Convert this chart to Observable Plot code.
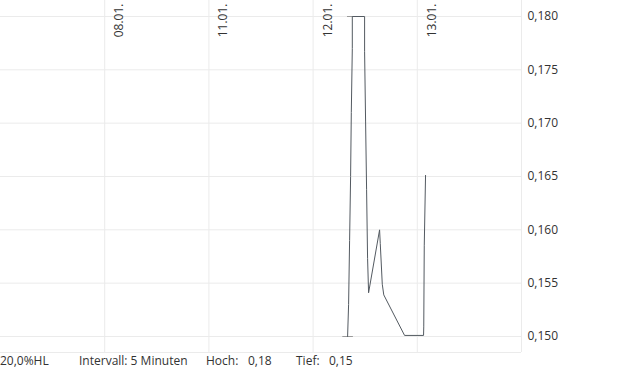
<!DOCTYPE html>
<html>
<head>
<meta charset="utf-8">
<script src="https://cdn.jsdelivr.net/npm/d3@7"></script>
<script src="https://cdn.jsdelivr.net/npm/@observablehq/plot@0.6"></script>
<style>
  html, body { margin: 0; padding: 0; background: #fff; }
  #chart svg { display: block; }
  #footer { position: relative; width: 620px; height: 19px; font-family: "Open Sans", sans-serif; font-size: 12px; color: #333; line-height: 16px; white-space: pre; }
  #footer span { position: absolute; top: 0; }
</style>
</head>
<body>
<div id="chart"></div>
<div id="footer">
  <span id="f-hl" style="left:0px"></span>
  <span id="f-int" style="left:79px"></span>
  <span id="f-hoch" style="left:206px"></span>
  <span id="f-hochv" style="left:248px"></span>
  <span id="f-tief" style="left:296px"></span>
  <span id="f-tiefv" style="left:329px"></span>
</div>
<script>
// Trading days (equal-width slots on the x axis)
const days = ["07.01.", "08.01.", "11.01.", "12.01.", "13.01."];
const dayTicks = [1, 2, 3, 4];

// Price series (x = fractional trading-day index, 5-minute data)
const t = [3.3311, 3.3407, 3.3503, 3.3599, 3.3666, 3.3762, 3.3762, 3.4942, 3.4942, 3.5037, 3.5133, 3.5229, 3.5325, 3.6380, 3.6447, 3.6639, 3.6783, 3.8778, 4.0600, 4.0620, 4.0668, 4.0792];
const price = [0.1500, 0.1530, 0.1590, 0.1650, 0.1710, 0.1770, 0.1800, 0.1800, 0.1767, 0.1702, 0.1638, 0.1573, 0.1541, 0.1600, 0.1587, 0.1549, 0.1539, 0.1501, 0.1501, 0.1509, 0.1585, 0.1651];

// Y axis ticks
const yTicks = [0.150, 0.155, 0.160, 0.165, 0.170, 0.175, 0.180];

// Footer info
const footerHL = "20,0%HL";
const footerInterval = "Intervall: 5 Minuten";
const footerHoch = "Hoch:";
const footerTief = "Tief:";

const series = t.map((x, i) => ({x, y: price[i]}));
const hiIdx = d3.maxIndex(price);
const loIdx = d3.minIndex(price);
const hilo = [series[hiIdx], series[loIdx]];

const comma = (f) => (d) => f(d).replace(".", ",");
const fmt3 = comma(d3.format(".3f"));
const fmt2 = comma(d3.format(".2f"));

const hbar = {
  draw(ctx, size) {
    const r = Math.sqrt(size / Math.PI);
    ctx.moveTo(-r, 0);
    ctx.lineTo(r, 0);
  }
};

const gridColor = "#ebebeb";

const chart = Plot.plot({
  width: 620,
  height: 353,
  marginTop: 0,
  marginBottom: 1,
  marginLeft: 0,
  marginRight: 99,
  style: { fontFamily: "Open Sans, sans-serif", fontSize: "12px", color: "#333", background: "#fff", overflow: "visible" },
  x: { domain: [0, days.length], axis: null },
  y: { domain: [0.1485, 0.1815], axis: null },
  marks: [
    Plot.gridY(yTicks, { stroke: gridColor, strokeOpacity: 1 }),
    Plot.gridX(dayTicks, { stroke: gridColor, strokeOpacity: 1 }),
    Plot.ruleX([days.length], { stroke: gridColor }),
    Plot.ruleY([0.1485], { stroke: gridColor }),
    Plot.axisY(yTicks, { anchor: "right", tickSize: 0, tickPadding: 6, tickFormat: fmt3, label: null, fill: "#333", fontSize: 12 }),
    Plot.text(dayTicks, {
      x: (d) => d,
      frameAnchor: "top",
      text: (d) => days[d],
      rotate: -90,
      textAnchor: "end",
      dx: 10,
      dy: 3,
      fill: "#333",
      fontSize: 12
    }),
    Plot.dot(hilo, { x: "x", y: "y", symbol: hbar, r: 5.3, stroke: "#9a9a9a", fill: "none", strokeWidth: 1 }),
    Plot.line(series, { x: "x", y: "y", stroke: "#535a61", strokeWidth: 1 })
  ]
});
document.getElementById("chart").appendChild(chart);

document.getElementById("f-hl").textContent = footerHL;
document.getElementById("f-int").textContent = footerInterval;
document.getElementById("f-hoch").textContent = footerHoch;
document.getElementById("f-hochv").textContent = fmt2(price[hiIdx]);
document.getElementById("f-tief").textContent = footerTief;
document.getElementById("f-tiefv").textContent = fmt2(price[loIdx]);
</script>
</body>
</html>
